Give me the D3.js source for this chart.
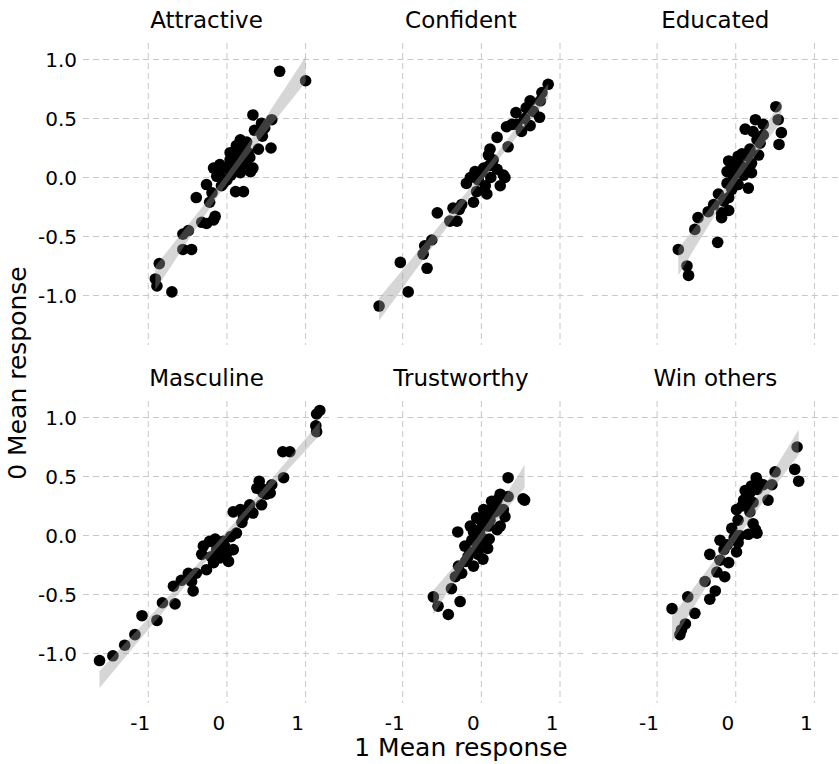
<!DOCTYPE html>
<html lang="en">
<head>
    <meta charset="UTF-8">
    <title>Mean response facets</title>
    <script src="https://d3js.org/d3.v7.min.js"></script>
    <style>
        html, body {
            margin: 0;
            background: #fff;
        }

        text {
            font-family: "DejaVu Sans", sans-serif;
            fill: #000;
        }

        .grid line {
            stroke: #c8c8c8;
            stroke-width: 1px;
            stroke-dasharray: 6, 4;
        }
    </style>
</head>
<body>
<div class="chart"></div>

<script>

    // panel titles, in grid order
    var panelNames = ["Attractive", "Confident", "Educated", "Masculine", "Trustworthy", "Win others"];

    var xTicks = [-1, 0, 1];
    var yTicks = [-1.0, -0.5, 0.0, 0.5, 1.0];

    // [1 mean response, 0 mean response]
    var attractive = [[0.67, 0.90], [1.00, 0.82], [0.33, 0.53], [0.44, 0.46], [0.57, 0.49], [0.45, 0.35],
        [0.17, 0.32], [0.12, 0.27], [0.40, 0.24], [0.56, 0.25], [0.29, 0.17], [0.04, 0.15], [-0.09, 0.11],
        [-0.17, 0.08], [-0.03, 0.08], [0.21, 0.11], [0.33, 0.08], [0.17, 0.04], [0.08, 0.07], [-0.13, 0.01],
        [0.00, -0.02], [-0.07, -0.07], [-0.26, -0.06], [-0.19, -0.13], [0.11, -0.12], [0.21, -0.12],
        [-0.39, -0.17], [-0.22, -0.21], [-0.15, -0.33], [-0.17, -0.36], [-0.32, -0.38], [-0.26, -0.39],
        [-0.49, -0.45], [-0.56, -0.48], [-0.56, -0.61], [-0.45, -0.61], [-0.86, -0.73], [-0.91, -0.86],
        [-0.89, -0.92], [-0.70, -0.97], [0.48, 0.42], [-0.10, 0.06], [0.04, 0.21], [0.23, 0.27],
        [0.27, 0.21], [-0.05, -0.05], [0.10, 0.18], [0.18, 0.20], [0.25, 0.30], [0.14, 0.12], [0.25, 0.15],
        [0.05, 0.02], [-0.08, 0.00], [0.30, 0.05], [0.35, 0.40]];

    var confident = [[0.85, 0.79], [0.77, 0.72], [0.75, 0.65], [0.62, 0.65], [0.57, 0.59], [0.44, 0.55],
        [0.66, 0.56], [0.74, 0.51], [0.62, 0.44], [0.51, 0.39], [0.39, 0.45], [0.32, 0.43], [0.20, 0.34],
        [0.34, 0.26], [0.11, 0.24], [0.09, 0.19], [0.15, 0.15], [0.03, 0.08], [0.20, 0.07], [-0.08, 0.05],
        [-0.14, 0.00], [-0.04, -0.02], [0.30, 0.00], [0.24, -0.07], [0.05, -0.07], [-0.06, -0.12],
        [0.07, -0.14], [-0.10, -0.21], [-0.25, -0.23], [-0.36, -0.26], [-0.56, -0.30], [-0.40, -0.37],
        [-0.31, -0.37], [-0.63, -0.53], [-0.72, -0.58], [-0.74, -0.65], [-1.03, -0.72], [-0.69, -0.77],
        [-0.93, -0.97], [-1.30, -1.09], [-0.19, -0.05], [-0.02, 0.03], [0.13, 0.12], [0.28, 0.02],
        [0.10, 0.10], [0.00, 0.05], [-0.05, 0.00], [0.12, 0.00], [0.45, 0.45], [0.55, 0.50], [-0.28, -0.27]];

    var educated = [[0.51, 0.60], [0.54, 0.49], [0.58, 0.38], [0.55, 0.28], [0.25, 0.49], [0.12, 0.41],
        [0.22, 0.39], [0.35, 0.36], [0.31, 0.29], [0.18, 0.24], [0.29, 0.19], [0.03, 0.18], [-0.09, 0.14],
        [0.05, 0.11], [0.14, 0.08], [-0.11, 0.05], [0.20, 0.04], [-0.03, 0.01], [-0.11, -0.05], [0.03, -0.06],
        [0.16, -0.09], [-0.22, -0.14], [-0.09, -0.17], [-0.28, -0.23], [-0.09, -0.28], [-0.18, -0.30],
        [-0.35, -0.29], [-0.18, -0.34], [-0.48, -0.34], [-0.52, -0.44], [-0.23, -0.55], [-0.73, -0.61],
        [-0.62, -0.75], [-0.60, -0.83], [-0.03, 0.10], [0.08, 0.20], [0.15, 0.18], [0.20, 0.12],
        [0.10, 0.02], [-0.05, -0.10], [0.00, 0.05], [0.27, 0.32], [0.35, 0.45], [-0.15, -0.20]];

    var masculine = [[1.18, 1.06], [1.14, 1.03], [1.13, 0.93], [1.14, 0.88], [0.71, 0.71], [0.80, 0.71],
        [0.72, 0.49], [0.41, 0.46], [0.44, 0.40], [0.57, 0.43], [0.55, 0.36], [0.46, 0.36], [0.44, 0.26],
        [0.29, 0.26], [0.33, 0.19], [0.17, 0.22], [0.08, 0.20], [0.21, 0.16], [0.19, 0.11], [0.12, 0.02],
        [0.05, -0.01], [0.08, -0.12], [-0.03, -0.09], [-0.22, -0.05], [-0.13, -0.12], [-0.32, -0.16],
        [0.02, -0.22], [-0.09, -0.19], [-0.17, -0.23], [-0.26, -0.29], [-0.39, -0.32], [-0.49, -0.32],
        [-0.58, -0.38], [-0.45, -0.39], [-0.43, -0.47], [-0.68, -0.43], [-0.66, -0.58], [-0.82, -0.57],
        [-0.89, -0.72], [-1.08, -0.68], [-1.17, -0.84], [-1.30, -0.93], [-1.45, -1.02], [-1.62, -1.06],
        [-0.30, -0.09], [-0.07, -0.15], [-0.15, -0.03], [-0.05, -0.05], [-0.10, -0.08], [0.00, -0.15],
        [-0.20, -0.18], [0.25, 0.22], [0.38, 0.40], [0.50, 0.35]];

    var trustworthy = [[0.34, 0.49], [0.53, 0.31], [0.55, 0.30], [0.24, 0.35], [0.34, 0.33], [0.13, 0.29],
        [0.03, 0.22], [0.30, 0.16], [-0.06, 0.15], [0.24, 0.08], [-0.14, 0.08], [0.09, 0.08], [-0.30, 0.03],
        [-0.02, 0.01], [0.05, -0.05], [-0.21, -0.09], [-0.06, -0.06], [0.08, -0.11], [-0.17, -0.18],
        [-0.04, -0.16], [-0.10, -0.26], [-0.29, -0.26], [-0.33, -0.35], [-0.38, -0.45], [-0.61, -0.52],
        [-0.27, -0.56], [-0.55, -0.60], [-0.42, -0.67], [0.11, 0.13], [0.17, 0.20], [-0.02, 0.05],
        [0.20, 0.30], [0.15, 0.25], [0.22, 0.22], [0.05, 0.18], [0.12, 0.18], [0.00, 0.12], [0.08, 0.10],
        [-0.10, 0.03], [0.00, -0.02], [0.10, -0.03], [-0.12, -0.04], [-0.05, -0.12], [-0.14, -0.14],
        [-0.20, -0.22], [0.02, -0.20], [0.20, 0.05], [0.28, 0.22], [-0.25, -0.32]];

    var winOthers = [[0.78, 0.75], [0.75, 0.56], [0.80, 0.46], [0.50, 0.54], [0.26, 0.49], [0.35, 0.43],
        [0.46, 0.43], [0.27, 0.39], [0.18, 0.36], [0.10, 0.30], [0.41, 0.30], [0.01, 0.22], [0.18, 0.20],
        [0.03, 0.13], [0.22, 0.10], [-0.05, 0.06], [0.27, 0.02], [0.16, 0.01], [-0.20, -0.04], [-0.11, -0.08],
        [0.03, -0.06], [0.01, -0.14], [-0.33, -0.16], [-0.20, -0.21], [-0.09, -0.23], [-0.24, -0.31],
        [-0.14, -0.35], [-0.39, -0.39], [-0.26, -0.47], [-0.33, -0.54], [-0.61, -0.52], [-0.81, -0.62],
        [-0.52, -0.66], [-0.64, -0.75], [-0.69, -0.80], [-0.71, -0.84], [0.14, 0.33], [0.20, 0.42],
        [0.28, 0.45], [0.12, 0.38], [0.08, 0.25], [0.15, 0.26], [0.25, 0.05], [0.05, 0.00],
        [-0.15, -0.12], [-0.02, -0.02], [0.22, 0.28]];

    var panelData = [attractive, confident, educated, masculine, trustworthy, winOthers];

    var width = 839, height = 764;
    var panelW = 247, panelH = 302;
    var panelLeft = [83, 337.4, 591.8];
    var panelTop = [43, 401];

    var x = d3.scaleLinear().domain([-1.83, 1.31]).range([0, panelW]);
    var y = d3.scaleLinear().domain([-1.42, 1.14]).range([panelH, 0]);

    var svg = d3.select('.chart').append('svg')
        .attr('width', width)
        .attr('height', height);

    // linear fit with 95% confidence band, like geom_smooth(method = lm)
    function fitBand(pts) {
        var n = pts.length;
        var mx = d3.mean(pts, function (d) { return d[0]; });
        var my = d3.mean(pts, function (d) { return d[1]; });
        var sxx = d3.sum(pts, function (d) { return (d[0] - mx) * (d[0] - mx); });
        var sxy = d3.sum(pts, function (d) { return (d[0] - mx) * (d[1] - my); });
        var b = sxy / sxx, a = my - b * mx;
        var sse = d3.sum(pts, function (d) { var r = d[1] - (a + b * d[0]); return r * r; });
        var s = Math.sqrt(sse / (n - 2));
        var t = 2.01;
        var ext = d3.extent(pts, function (d) { return d[0]; });
        return d3.range(0, 41).map(function (i) {
            var xv = ext[0] + (ext[1] - ext[0]) * i / 40;
            var fit = a + b * xv;
            var se = s * Math.sqrt(1 / n + (xv - mx) * (xv - mx) / sxx);
            return {x: xv, lo: fit - t * se, hi: fit + t * se};
        });
    }

    var area = d3.area()
        .x(function (d) { return x(d.x); })
        .y0(function (d) { return y(d.lo); })
        .y1(function (d) { return y(d.hi); });

    panelNames.forEach(function (name, i) {
        var col = i % 3, row = Math.floor(i / 3);
        var g = svg.append('g')
            .attr('transform', 'translate(' + panelLeft[col] + ',' + panelTop[row] + ')');

        var grid = g.append('g').attr('class', 'grid');
        grid.selectAll('.hy').data(yTicks).enter().append('line')
            .attr('x1', 0).attr('x2', panelW)
            .attr('y1', function (d) { return y(d); })
            .attr('y2', function (d) { return y(d); });
        grid.selectAll('.vx').data(xTicks).enter().append('line')
            .attr('y1', 0).attr('y2', panelH)
            .attr('x1', function (d) { return x(d); })
            .attr('x2', function (d) { return x(d); });

        g.selectAll('circle').data(panelData[i]).enter().append('circle')
            .attr('r', 5.8)
            .attr('cx', function (d) { return x(d[0]); })
            .attr('cy', function (d) { return y(d[1]); })
            .attr('fill', '#000');

        g.append('path')
            .attr('d', area(fitBand(panelData[i])))
            .attr('fill', '#999')
            .attr('fill-opacity', 0.4);

        g.append('text')
            .attr('x', panelW / 2)
            .attr('y', -15)
            .attr('text-anchor', 'middle')
            .style('font-size', '23px')
            .text(name);

        if (col === 0) {
            g.selectAll('.ytl').data(yTicks).enter().append('text')
                .attr('x', -6)
                .attr('y', function (d) { return y(d); })
                .attr('dy', '0.36em')
                .attr('text-anchor', 'end')
                .style('font-size', '20px')
                .text(function (d) { return d.toFixed(1); });
        }
        if (row === 1) {
            g.selectAll('.xtl').data(xTicks).enter().append('text')
                .attr('x', function (d) { return x(d) - 8; })
                .attr('y', panelH + 27)
                .attr('text-anchor', 'middle')
                .style('font-size', '20px')
                .text(function (d) { return d; });
        }
    });

    svg.append('text')
        .attr('x', (panelLeft[0] + width) / 2)
        .attr('y', 756)
        .attr('text-anchor', 'middle')
        .style('font-size', '25px')
        .text('1 Mean response');

    svg.append('text')
        .attr('transform', 'translate(26,' + (panelTop[0] + panelTop[1] + panelH) / 2 + ') rotate(-90)')
        .attr('text-anchor', 'middle')
        .style('font-size', '25px')
        .text('0 Mean response');

</script>
</body>
</html>
